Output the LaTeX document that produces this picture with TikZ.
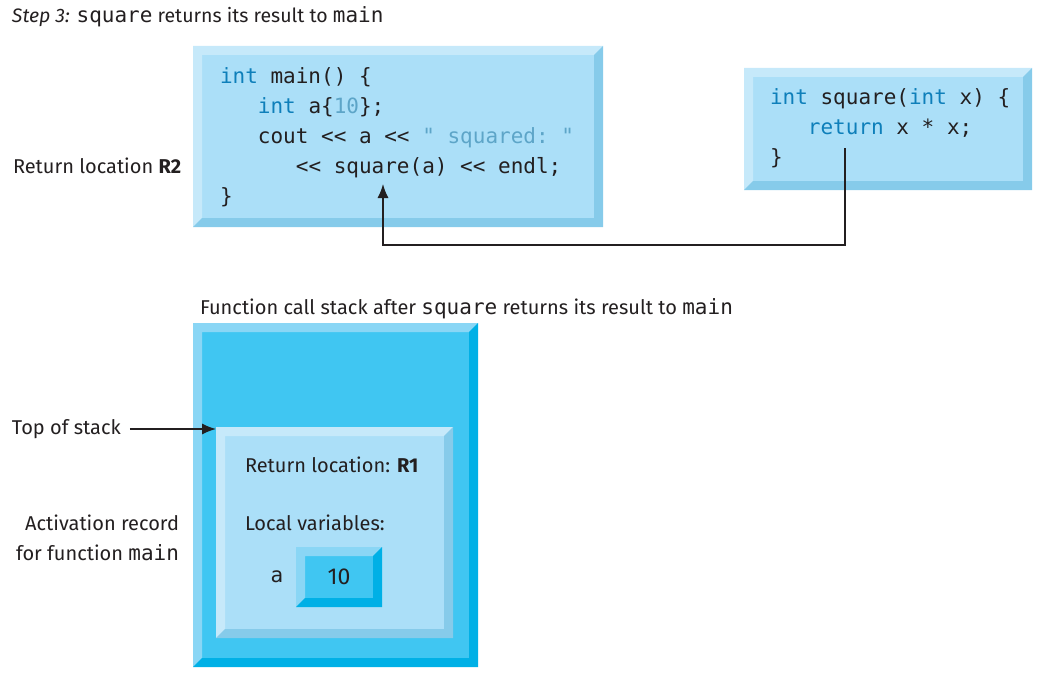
\documentclass[tikz,border=0pt]{standalone}
\usepackage{fontspec}
\setmainfont{Fira Sans}
\setmonofont{DejaVu Sans Mono}
\usetikzlibrary{calc,positioning,arrows.meta}

\definecolor{ink}{HTML}{231F20}
\definecolor{kwblue}{HTML}{0E7FBA}
\definecolor{litblue}{HTML}{5DA5C8}
\definecolor{ledge}{HTML}{C6E9FA}
\definecolor{lface}{HTML}{ABDFF8}
\definecolor{lshade}{HTML}{86CBEA}
\definecolor{dedge}{HTML}{8AD6F5}
\definecolor{dface}{HTML}{40C6F2}
\definecolor{dshade}{HTML}{00B0E6}

\newcommand{\kw}[1]{\textcolor{kwblue}{#1}}
\newcommand{\lit}[1]{\textcolor{litblue}{#1}}
\newcommand{\cd}[1]{{\fontsize{21}{30}\selectfont\ttfamily #1}}
\newcommand{\ind}{\hphantom{xxx}}
% light top/left edge and dark bottom/right edge of a box
\newcommand{\bevels}[2]{%
  \fill [#1] (path picture bounding box.south west) -- (path picture bounding box.north west)
    -- (path picture bounding box.north east) -- ([shift={(-9pt,-9pt)}]path picture bounding box.north east)
    -- ([shift={(9pt,-9pt)}]path picture bounding box.north west) -- ([shift={(9pt,9pt)}]path picture bounding box.south west) -- cycle;
  \fill [#2] (path picture bounding box.south west) -- (path picture bounding box.south east)
    -- (path picture bounding box.north east) -- ([shift={(-9pt,-9pt)}]path picture bounding box.north east)
    -- ([shift={(-9pt,9pt)}]path picture bounding box.south east) -- ([shift={(9pt,9pt)}]path picture bounding box.south west) -- cycle;}

\begin{document}
\begin{tikzpicture}[x=1pt,y=-1pt,every node/.style={inner sep=0pt,outer sep=0pt,text=ink}]
\tikzstyle{lightbox}=[fill=lface,path picture={\bevels{ledge}{lshade}}]
\tikzstyle{darkbox}=[fill=dface,path picture={\bevels{dedge}{dshade}}]
\tikzstyle{code}=[align=left,font={\fontsize{21}{29.8}\selectfont\ttfamily}]
\tikzstyle{txt}=[font={\fontsize{20}{30}\selectfont}]
\tikzstyle{ret}=[line width=1.3pt,draw=ink,-{Latex[length=14pt,width=11pt]}]

\useasboundingbox (0,0) rectangle (1042,677);

\node (title) [txt,font={\fontsize{19.5}{30}\selectfont},anchor=base west] at (12,23) {\textit{Step 3:} \cd{square} returns its result to \cd{main}};

% functions
\node (main) [lightbox,minimum width=410pt,minimum height=181pt] at (398,136.5) {};
\node (maincode) [code,anchor=base west] at (220,203) {\kw{int} main() \{\\
\ind\kw{int} a\{\lit{10}\};\\
\ind cout << a << \lit{" squared: "}\\
\ind\ind<< square(a) << endl;\\
\}};
\node (square) [lightbox,minimum width=288pt,minimum height=122pt] at (888,129) {};
\node (squarecode) [code,anchor=base west] at (770,164) {\kw{int} square(\kw{int} x) \{\\
\ind\kw{return} x * x;\\
\}};
\node (r2) [txt,anchor=base west] at (13,173) {Return location \textbf{R2}};

\coordinate (retfrom) at (845,148);
\coordinate (turn) at (383,245);
\coordinate (callsite) at (383,184);
\draw [ret] (retfrom) |- (turn) -- (callsite);

% call stack
\node (caption) [txt,anchor=base west] at (200,314) {Function call stack after \cd{square} returns its result to \cd{main}};
\node (stack) [darkbox,minimum width=285pt,minimum height=344pt] at (335.5,495) {};
\node (record) [lightbox,minimum width=237pt,minimum height=211pt] at (334.5,532.5) {};
\node (r1) [txt,anchor=base west] at (245,472) {Return location: \textbf{R1}};
\node (locals) [txt,anchor=base west] at (245,530) {Local variables:};
\node (avar) [darkbox,minimum width=86pt,minimum height=60pt] at (339,577) {};
\node (aval) [font={\fontsize{23}{30}\selectfont}] at (avar) {10};
\node (aname) [code] at (277,577) {a};

\node (tos) [txt,anchor=west] at (12,429) {Top of stack};
\draw [ret] (tos.east) ++(9pt,0) -- (tos.east -| record.west);
\node (actrec) [txt,anchor=east,align=right] at (179,538) {Activation record\\for function \cd{main}};
\end{tikzpicture}
\end{document}
